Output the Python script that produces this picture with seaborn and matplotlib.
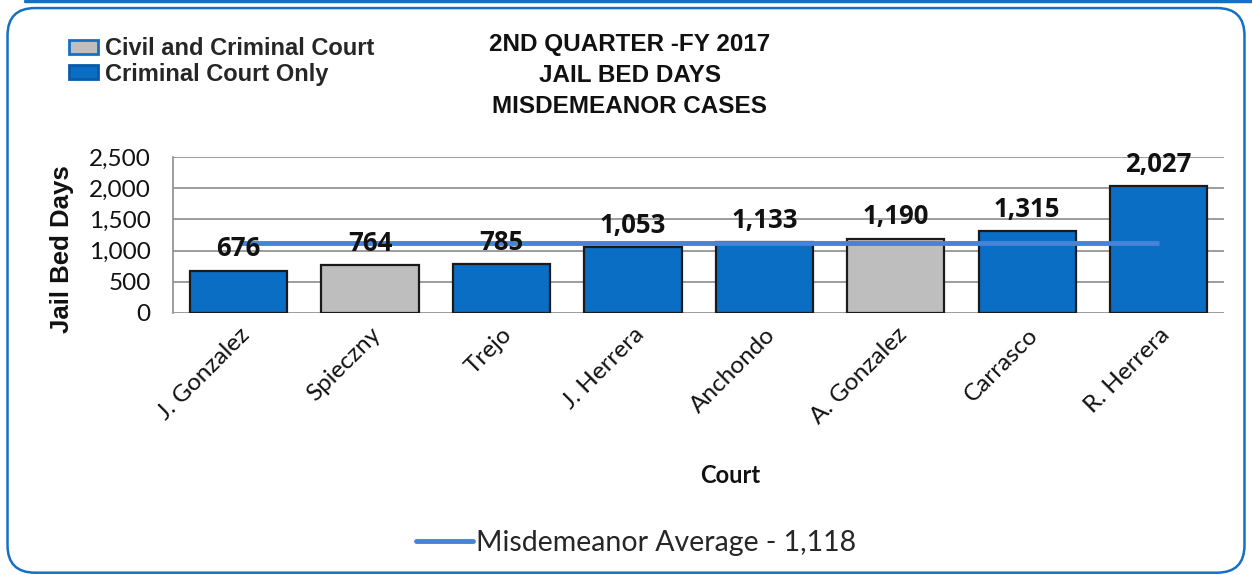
import matplotlib
matplotlib.use("Agg")
import matplotlib.pyplot as plt
import seaborn as sns
import pandas as pd
from matplotlib.patches import FancyBboxPatch, Patch
from matplotlib.lines import Line2D
from matplotlib.ticker import FuncFormatter

courts = ["J. Gonzalez", "Spieczny", "Trejo", "J. Herrera", "Anchondo",
          "A. Gonzalez", "Carrasco", "R. Herrera"]
jail_bed_days = [676, 764, 785, 1053, 1133, 1190, 1315, 2027]
court_type = ["Criminal Court Only", "Civil and Criminal Court", "Criminal Court Only",
              "Criminal Court Only", "Criminal Court Only", "Civil and Criminal Court",
              "Criminal Court Only", "Criminal Court Only"]
average = 1118
title_lines = ["2ND QUARTER -FY 2017", "JAIL BED DAYS", "MISDEMEANOR CASES"]
y_ticks = [0, 500, 1000, 1500, 2000, 2500]

BLUE = "#0A6EC4"
GRAY = "#BEBEBE"
LINE = "#4683D9"
BORDER = "#1470C4"

df = pd.DataFrame({"Court": courts, "Days": jail_bed_days, "Type": court_type})

sns.set_theme(style="white")
plt.rcParams["font.family"] = ["Lato", "DejaVu Sans"]

fig = plt.figure(figsize=(12.52, 5.75), dpi=100)
fig.patch.set_facecolor("white")

# border box
fig.patches.append(FancyBboxPatch((0.006, 0.004), 0.988, 0.982,
                                  boxstyle="round,pad=0,rounding_size=0.022",
                                  transform=fig.transFigure, facecolor="none",
                                  edgecolor=BORDER, linewidth=1.8,
                                  mutation_aspect=1252/575))
fig.add_artist(Line2D([0.02, 1.0], [0.998, 0.998], transform=fig.transFigure,
                      color=BORDER, linewidth=2.5))

ax = fig.add_axes([0.138, 0.4557, 0.84, 0.2713])
sns.barplot(data=df, x="Court", y="Days", hue="Type",
            palette={"Criminal Court Only": BLUE, "Civil and Criminal Court": GRAY},
            dodge=False, width=0.74, saturation=1, edgecolor="#1a1a1a", linewidth=1.6,
            legend=False, ax=ax, zorder=3)

ax.hlines(average, 0, len(courts) - 1, color=LINE, linewidth=3.5, zorder=4)

for i, v in enumerate(jail_bed_days):
    ax.annotate(f"{v:,}", (i, v), xytext=(0, 6), textcoords="offset points",
                ha="center", va="bottom", fontsize=18.5, fontweight="bold",
                family=["Open Sans", "DejaVu Sans"], color="#111111", zorder=5)

ax.set_ylim(0, 2500)
ax.set_yticks(y_ticks)
ax.yaxis.set_major_formatter(FuncFormatter(lambda v, p: f"{int(v):,}"))
ax.set_xlim(-0.5, len(courts) - 0.5)
ax.grid(axis="y", color="#8C8C8C", linewidth=1.2, zorder=0)
for s in ["top", "right", "bottom"]:
    ax.spines[s].set_visible(False)
ax.spines["left"].set_color("#8C8C8C")
ax.spines["left"].set_linewidth(1.2)
ax.tick_params(axis="y", labelsize=17.5, pad=10, colors="#111111", left=False)
ax.tick_params(axis="x", labelsize=17.5, pad=2, colors="#111111", bottom=False)
plt.setp(ax.get_xticklabels(), rotation=45, ha="right", rotation_mode="anchor")
ax.set_xlabel("Court", fontsize=17, fontweight="bold", color="#111111")
ax.set_ylabel("Jail Bed Days", fontsize=18.5, fontweight="bold",
              family=["Liberation Sans", "DejaVu Sans"], color="#111111")
ax.xaxis.set_label_coords(0.53, -0.97)
ax.yaxis.set_label_coords(-0.094, 0.41)

for k, t in enumerate(title_lines):
    fig.text(0.503, 0.922 - k * 0.054, t, ha="center", va="center", fontsize=17.5,
             fontweight="bold", family=["Liberation Sans", "DejaVu Sans"], color="#111111")

top_handles = [Patch(facecolor=GRAY, edgecolor=BORDER, linewidth=2),
               Patch(facecolor=BLUE, edgecolor="#0B5AA8", linewidth=2)]
leg1 = fig.legend(top_handles, ["Civil and Criminal Court", "Criminal Court Only"],
                  loc="upper left", bbox_to_anchor=(0.038, 0.972), frameon=False,
                  handlelength=1.25, handleheight=0.55, handletextpad=0.3,
                  labelspacing=0.1,
                  prop={"family": ["Liberation Sans", "DejaVu Sans"], "weight": "bold", "size": 17})

leg2 = fig.legend([Line2D([0], [0], color=LINE, linewidth=3.5)],
                  [f"Misdemeanor Average - {average:,}"],
                  loc="center", bbox_to_anchor=(0.508, 0.055), frameon=False,
                  handlelength=2.0, handletextpad=0.1,
                  prop={"family": ["Lato", "DejaVu Sans"], "size": 20.5})

fig.savefig("out.png", dpi=100, facecolor="white")
